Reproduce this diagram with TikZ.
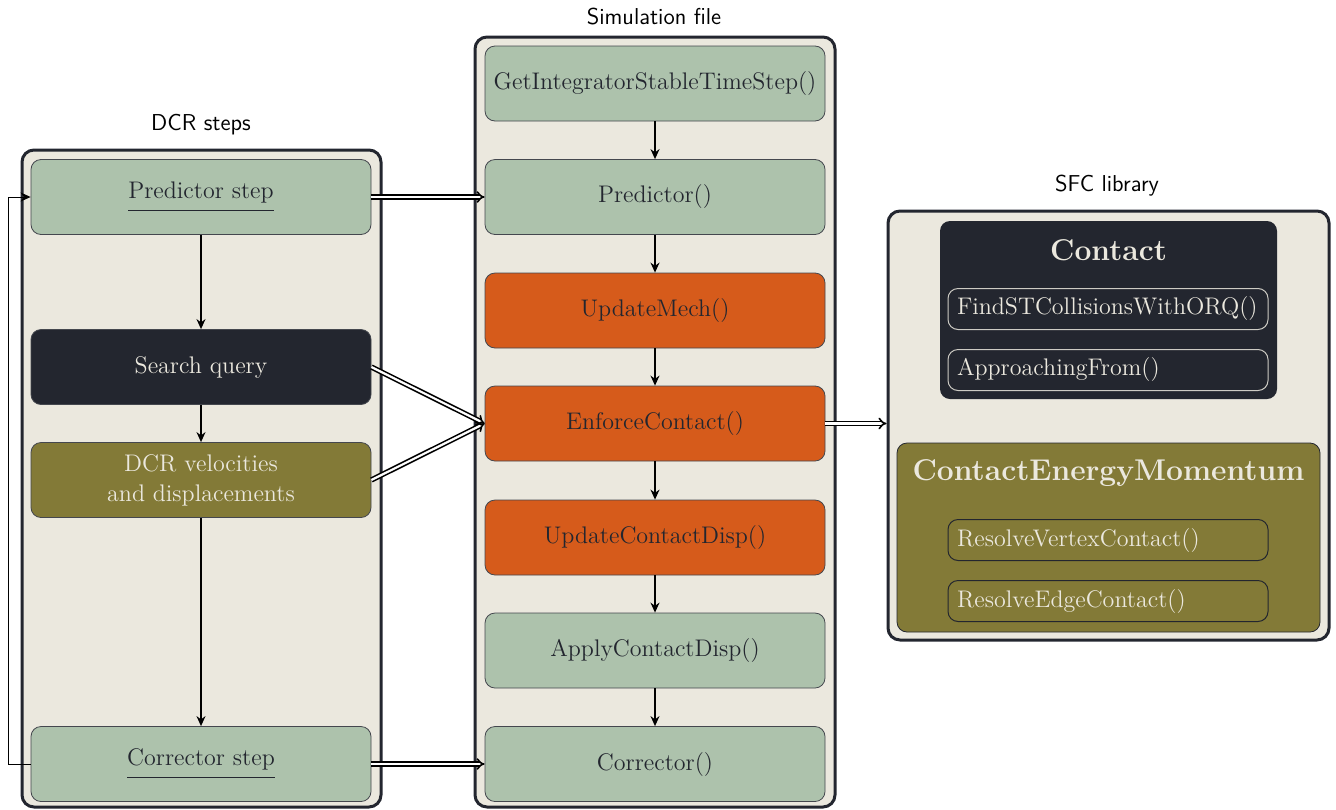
\documentclass[tikz,border=0pt]{standalone}
\usetikzlibrary{arrows.meta}
\definecolor{ink}{HTML}{23262F}
\definecolor{cream}{HTML}{EBE8DE}
\definecolor{sage}{HTML}{ADC2AC}
\definecolor{olive}{HTML}{837A37}
\definecolor{rust}{HTML}{D65B1B}
\newcommand{\steplabel}[1]{\underline{#1\vphantom{\rule[-4.5pt]{0pt}{1pt}}}}
\begin{document}
\begin{tikzpicture}[x=0.5pt,y=-0.5pt,
  container/.style={draw=ink, line width=1.5pt, fill=cream, rounded corners=6pt},
  title/.style={font=\sffamily\fontsize{11.5}{14}\selectfont, text=black},
  box/.style={draw=ink!85, line width=0.4pt, rounded corners=5pt,
    minimum width=170pt, minimum height=37.5pt, align=center,
    font=\fontsize{12}{15}\selectfont},
  greenbox/.style={box, fill=sage, text=ink},
  darkbox/.style={box, fill=ink, text=cream},
  olivebox/.style={box, fill=olive, text=cream},
  rustbox/.style={box, fill=rust, text=ink},
  group/.style={rounded corners=5pt, line width=0.4pt},
  grouptitle/.style={font=\bfseries\fontsize{15}{18}\selectfont, text=cream},
  method/.style={rounded corners=5pt, line width=0.5pt, minimum width=160pt,
    minimum height=20.5pt, text width=151pt, inner xsep=4.5pt, align=left,
    font=\fontsize{12}{14}\selectfont, text=cream},
  flow/.style={-{Stealth[length=5pt,width=4.5pt]}, line width=0.7pt},
  loop/.style={-{Stealth[length=5pt,width=4.5pt]}, line width=0.5pt},
  dbl/.style={double, double distance=1.1pt, line width=0.8pt, -{Implies}},
]
\useasboundingbox (0,0) rectangle (1336,809);

% column frames
\node[container, minimum width=179.5pt, minimum height=328.5pt] (dcr) at (201.5,478.5) {};
\node[container, minimum width=180pt, minimum height=385pt] (sim) at (655,422) {};
\node[container, minimum width=220.5pt, minimum height=214.5pt] (sfc) at (1108.5,425.5) {};

\node[title] (dcrtitle) at (201,125) {DCR steps};
\node[title] (simtitle) at (654,17) {Simulation file};
\node[title] (sfctitle) at (1107,186) {SFC library};

% DCR steps
\node[greenbox] (pred) at (201,197) {\steplabel{Predictor step}};
\node[darkbox] (query) at (201,367) {Search query};
\node[olivebox] (vel) at (201,480) {DCR velocities\\and displacements};
\node[greenbox] (corr) at (201,764) {\steplabel{Corrector step}};

\draw[flow] (pred) -- (query);
\draw[flow] (query) -- (vel);
\draw[flow] (vel) -- (corr);
\coordinate (lb) at (8,764);
\coordinate (lt) at (8,197);
\draw[loop] (corr.west) -- (lb) -- (lt) -- (pred.west);

% simulation file calls
\node[greenbox] (step) at (655,83.5) {GetIntegratorStableTimeStep()};
\node[greenbox] (spred) at (655,197) {Predictor()};
\node[rustbox] (mech) at (655,310.5) {UpdateMech()};
\node[rustbox] (enf) at (655,423.5) {EnforceContact()};
\node[rustbox] (upd) at (655,537.5) {UpdateContactDisp()};
\node[greenbox] (app) at (655,650.5) {ApplyContactDisp()};
\node[greenbox] (scorr) at (655,764) {Corrector()};

\draw[flow] (step) -- (spred);
\draw[flow] (spred) -- (mech);
\draw[flow] (mech) -- (enf);
\draw[flow] (enf) -- (upd);
\draw[flow] (upd) -- (app);
\draw[flow] (app) -- (scorr);

% SFC library
\node[group, fill=ink, minimum width=168.5pt, minimum height=89pt] (contact) at (1108.5,310) {};
\node[grouptitle] (contacttitle) at (1108.5,250) {Contact};
\node[method, draw=cream!85!ink] (find) at (1108,309) {FindSTCollisionsWithORQ()};
\node[method, draw=cream!85!ink] (appr) at (1108,370) {ApproachingFrom()};

\node[group, fill=olive, draw=ink, minimum width=211.5pt, minimum height=94.5pt] (cem) at (1108.5,537.5) {};
\node[grouptitle] (cemtitle) at (1108.5,473) {ContactEnergyMomentum};
\node[method, draw=ink] (vert) at (1108,540) {ResolveVertexContact()};
\node[method, draw=ink] (edge) at (1108,601) {ResolveEdgeContact()};

% hand-offs between columns
\draw[dbl] (pred.east) -- (spred.west);
\draw[dbl] (query.east) -- (enf.west);
\draw[dbl] (vel.east) -- (enf.west);
\draw[dbl] (corr.east) -- (scorr.west);
\draw[dbl] (enf.east) -- (enf.east -| sfc.west);
\end{tikzpicture}
\end{document}
